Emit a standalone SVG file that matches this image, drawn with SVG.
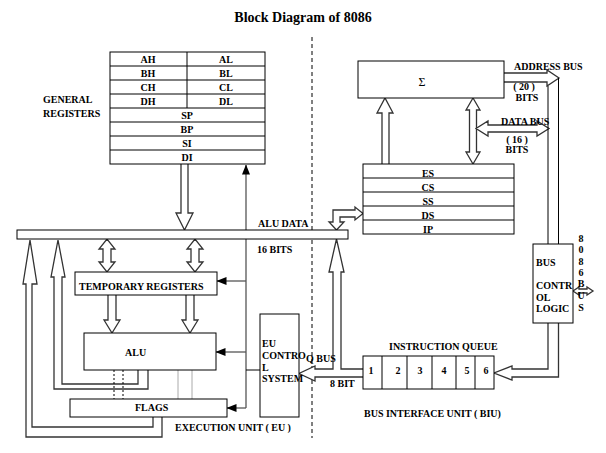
<svg xmlns="http://www.w3.org/2000/svg" width="606" height="453" viewBox="0 0 606 453">
<defs>
<style>
text{font-family:"Liberation Serif","Times New Roman",serif;font-weight:bold;font-size:10px;fill:#000}
.t{font-size:14px}
.m{text-anchor:middle}
.box{fill:#fff;stroke:#000;stroke-width:1}
.ha{fill:#fff;stroke:#333;stroke-width:1.3}
.thin{fill:none;stroke:#555;stroke-width:1.3}
.ln{fill:none;stroke:#000;stroke-width:1}
</style>
<marker id="ah" markerWidth="10" markerHeight="8" refX="9.5" refY="4" orient="auto" markerUnits="userSpaceOnUse"><path d="M0,0 L10,4 L0,8 Z" fill="#000"/></marker>
</defs>
<rect width="606" height="453" fill="#fff"/>
<text class="t m" x="303" y="22">Block Diagram of 8086</text>
<line x1="312" y1="37" x2="312" y2="438" stroke="#000" stroke-width="1" stroke-dasharray="4,3"/>

<g id="connectors">
<path class="ha" d="M181,164 L181,213 L176,213 L184.5,230 L193,213 L188,213 L188,164"/>
<path class="ha" d="M103,249 L99,249 L107,239 L115,249 L111,249 L111,262 L115,262 L107,272 L99,262 L103,262 Z"/>
<path class="ha" d="M191,249 L187,249 L195,239 L203,249 L199,249 L199,262 L203,262 L195,272 L187,262 L191,262 Z"/>
<path class="ha" d="M108,295 L108,320 L104,320 L112,333 L120,320 L116,320 L116,295"/>
<path class="ha" d="M186,295 L186,320 L182,320 L190,333 L198,320 L194,320 L194,295"/>
<path class="ha" d="M148,370 L148,389 L54,389 L54,277 L51,277 L58,240 L65,277 L62,277 L62,384 L138,384 L138,370"/>
<path class="ha" d="M162,417 L162,437 L26,437 L26,284 L23,284 L30,240 L37,284 L32,284 L32,427 L153,427 L153,417"/>
<line x1="114" y1="370" x2="114" y2="399" stroke="#000" stroke-dasharray="2,2"/>
<line x1="123" y1="370" x2="123" y2="399" stroke="#000" stroke-dasharray="2,2"/>
<line x1="178" y1="370" x2="178" y2="399" stroke="#aaa"/>
<line x1="192" y1="370" x2="192" y2="399" stroke="#aaa"/>
<path class="thin" d="M246,408 L246,165" marker-end="url(#ah)"/>
<path class="thin" d="M246,281 L217,281" marker-end="url(#ah)"/>
<path class="thin" d="M246,352 L216,352" marker-end="url(#ah)"/>
<path class="thin" d="M246,408 L227,408" marker-end="url(#ah)"/>
<path class="ln" d="M246,370 L268,370"/>
<path class="ha" d="M333,210 L355,210 L355,207 L363,213.5 L355,220 L355,217 L340,217 L340,222 L344,222 L336.5,230 L329,222 L333,222 Z"/>
<path class="ha" d="M363,369 L341,369 L341,272 L344,272 L336.5,239 L329,272 L333,272 L333,369 L315,369 L315,366 L299,373.5 L315,381 L315,377 L363,377"/>
<path class="ha" d="M382,164 L382,113 L377,113 L385,98 L393,113 L389,113 L389,164"/>
<path class="ha" d="M469.5,110 L466,110 L473,98 L480,110 L476.5,110 L476.5,152 L480,152 L473,164 L466,152 L469.5,152 Z"/>
<path class="ha" d="M488,125 L488,121 L476,128.5 L488,136 L488,132 L537,132 L537,136 L549,128.5 L537,121 L537,125 Z"/>
<path class="ha" d="M504,73 L547,73 L547,70 L559,78 L547,86 L547,82 L504,82"/>
<line x1="548" y1="86" x2="548" y2="244" stroke="#000"/>
<line x1="558.5" y1="78" x2="558.5" y2="244" stroke="#000"/>
<path class="ha" d="M548,323 L548,369 L512,369 L512,366 L494,373 L512,380 L512,377 L558.5,377 L558.5,323"/>
<path class="ha" d="M579,289 L579,287 L573,291 L579,295 L579,293 L587,293 L587,295 L593,291 L587,287 L587,289 Z"/>
</g>

<g id="general-registers">
<rect class="box" x="110" y="52" width="155" height="112"/>
<path class="ln" d="M110,66 H265 M110,80 H265 M110,94 H265 M110,108 H265 M110,122 H265 M110,136 H265 M110,150 H265 M187,52 V108"/>
<text class="m" x="148" y="63">AH</text><text class="m" x="226" y="63">AL</text>
<text class="m" x="148" y="77">BH</text><text class="m" x="226" y="77">BL</text>
<text class="m" x="148" y="91">CH</text><text class="m" x="226" y="91">CL</text>
<text class="m" x="148" y="105">DH</text><text class="m" x="226" y="105">DL</text>
<text class="m" x="187" y="119">SP</text>
<text class="m" x="187" y="133">BP</text>
<text class="m" x="187" y="147">SI</text>
<text class="m" x="187" y="161">DI</text>
<text x="43" y="103">GENERAL</text>
<text x="43" y="117">REGISTERS</text>
</g>

<g id="alu-data-bus">
<rect class="box" x="17" y="230" width="331" height="9"/>
<text x="258" y="227">ALU DATA</text>
<text x="257" y="253">16 BITS</text>
</g>

<g id="temporary-registers">
<rect class="box" x="75" y="272" width="142" height="23"/>
<text x="79" y="290">TEMPORARY REGISTERS</text>
</g>

<g id="alu">
<rect class="box" x="84" y="333" width="132" height="37"/>
<text x="125" y="356">ALU</text>
</g>

<g id="flags">
<rect class="box" x="70" y="399" width="157" height="18"/>
<text x="135" y="411">FLAGS</text>
</g>

<g id="eu-control">
<rect class="box" x="260" y="314" width="39" height="103"/>
<text x="262" y="347">EU</text>
<text x="262" y="359">CONTRO</text>
<text x="262" y="371">L</text>
<text x="262" y="382">SYSTEM</text>
</g>

<g id="labels-eu">
<text x="175" y="431">EXECUTION UNIT ( EU )</text>
<text x="306" y="362">Q BUS</text>
<text x="330" y="387">8 BIT</text>
</g>

<g id="sigma">
<rect class="box" x="358" y="61" width="146" height="37"/>
<text class="m" x="422" y="86" style="font-size:12px;font-weight:normal">Σ</text>
</g>

<g id="segment-registers">
<rect class="box" x="363" y="164" width="151" height="70"/>
<path class="ln" d="M363,178 H514 M363,192 H514 M363,206 H514 M363,220 H514"/>
<text class="m" x="428" y="177">ES</text>
<text class="m" x="428" y="191">CS</text>
<text class="m" x="428" y="205">SS</text>
<text class="m" x="428" y="219">DS</text>
<text class="m" x="428" y="233">IP</text>
</g>

<g id="bus-labels">
<text x="514" y="70">ADDRESS BUS</text>
<text class="m" x="524" y="90">( 20 )</text>
<text class="m" x="527" y="101">BITS</text>
<text x="501" y="125">DATA BUS</text>
<text class="m" x="517" y="143">( 16 )</text>
<text class="m" x="517" y="153">BITS</text>
</g>

<g id="bus-control-logic">
<rect class="box" x="533" y="244" width="40" height="79"/>
<text x="536" y="266">BUS</text>
<text x="536" y="289">CONTR</text>
<text x="536" y="300.5">OL</text>
<text x="536" y="312">LOGIC</text>
</g>

<g id="bus-8086">
<text class="m" x="581" y="241.5">8</text>
<text class="m" x="581" y="253">0</text>
<text class="m" x="581" y="264.5">8</text>
<text class="m" x="581" y="276">6</text>
<text class="m" x="581" y="287">B</text>
<text class="m" x="581" y="299">U</text>
<text class="m" x="581" y="311">S</text>
</g>

<g id="instruction-queue">
<rect class="box" x="363" y="356" width="131" height="33"/>
<path class="ln" d="M382,356 V389 M407,356 V389 M432,356 V389 M456,356 V389 M475,356 V389"/>
<text class="m" x="371" y="374">1</text>
<text class="m" x="398" y="374">2</text>
<text class="m" x="420" y="374">3</text>
<text class="m" x="444" y="374">4</text>
<text class="m" x="467" y="374">5</text>
<text class="m" x="486" y="374">6</text>
<text x="389" y="350">INSTRUCTION QUEUE</text>
<text x="364" y="416.5">BUS INTERFACE UNIT ( BIU)</text>
</g>
</svg>
